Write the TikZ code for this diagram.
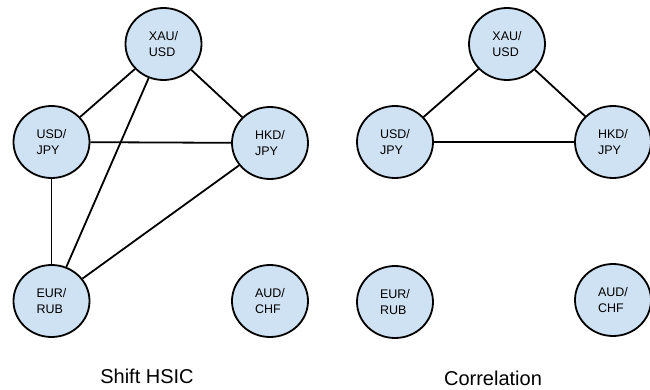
\documentclass[tikz,border=0pt]{standalone}
\usepackage{fontspec}
\setmainfont{Liberation Sans}
\usetikzlibrary{shapes.geometric}
\definecolor{nodefill}{HTML}{CFE2F3}
\begin{document}
\begin{tikzpicture}[x=1pt,y=-1pt,
  fx/.style={ellipse,draw=black,line width=1.8pt,fill=nodefill,minimum width=76pt,minimum height=72pt,inner sep=0pt,font=\fontsize{12.5}{15.5}\selectfont,align=left},
  edge/.style={line width=1.8pt},
  caption/.style={font=\fontsize{20}{24}\selectfont,anchor=base}]
\useasboundingbox (0,0) rectangle (650,390);
% left graph
\node[fx] (lxau) at (163.5,44) {XAU/\\USD};
\node[fx] (lusd) at (51.5,142) {USD/\\JPY};
\node[fx] (lhkd) at (270,143) {HKD/\\JPY};
\node[fx] (leur) at (51.5,301) {EUR/\\RUB};
\node[fx] (laud) at (270,301) {AUD/\\CHF};
\draw[edge] (lxau) -- (lusd);
\draw[edge] (lxau) -- (lhkd);
\draw[edge] (lxau) -- (leur);
\draw[edge] (lusd) -- (lhkd);
\draw[edge] (lusd) -- (leur);
\draw[edge] (lhkd) -- (leur);
\node[caption] (lcap) at (147,383) {Shift HSIC};
% right graph
\node[fx] (rxau) at (507,44) {XAU/\\USD};
\node[fx] (rusd) at (395,142) {USD/\\JPY};
\node[fx] (rhkd) at (613,142) {HKD/\\JPY};
\node[fx] (reur) at (395,302) {EUR/\\RUB};
\node[fx] (raud) at (613,300) {AUD/\\CHF};
\draw[edge] (rxau) -- (rusd);
\draw[edge] (rxau) -- (rhkd);
\draw[edge] (rusd) -- (rhkd);
\node[caption] (rcap) at (493,385) {Correlation};
\end{tikzpicture}
\end{document}
